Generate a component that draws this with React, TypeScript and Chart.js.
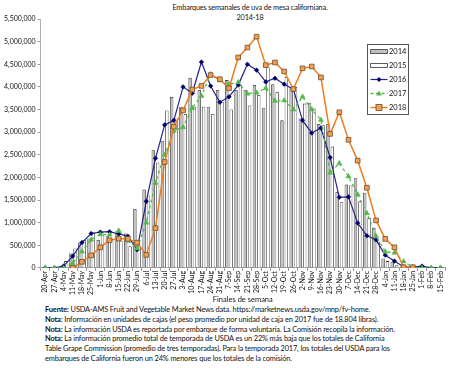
import React, { useEffect, useRef } from 'react';
import { Chart, registerables } from 'chart.js';
Chart.register(...registerables);

const weeks = ['20-Apr','27-Apr','4-May','11-May','18-May','25-May','1-Jun','8-Jun','15-Jun','22-Jun','29-Jun','6-Jul','13-Jul','20-Jul','27-Jul','3-Aug','10-Aug','17-Aug','24-Aug','31-Aug','7-Sep','14-Sep','21-Sep','28-Sep','5-Oct','12-Oct','19-Oct','26-Oct','2-Nov','9-Nov','16-Nov','23-Nov','30-Nov','7-Dec','14-Dec','21-Dec','28-Dec','4-Jan','11-Jan','18-Jan','25-Jan','1-Feb','8-Feb','15-Feb'];

const s2014 = [0,0,40000,320000,560000,650000,620000,700000,770000,760000,1300000,1730000,2600000,2810000,3780000,3560000,4200000,3930000,3560000,3930000,4150000,3930000,3930000,4040000,3540000,4060000,3260000,4000000,3300000,3650000,3180000,3180000,1680000,1840000,1980000,1660000,880000,208000,134000,20000,0,0,0,0];
const s2015 = [0,0,150000,430000,620000,780000,760000,640000,600000,480000,450000,1600000,2330000,3480000,3300000,3400000,3560000,3560000,3400000,3670000,3500000,4040000,3590000,3820000,4450000,3890000,4220000,4000000,3630000,3520000,3150000,2680000,1450000,1820000,1470000,1100000,580000,150000,60000,0,0,0,0,0];
const s2016 = [0,0,40000,260000,560000,760000,790000,800000,750000,700000,400000,1470000,2420000,3160000,3260000,4000000,3860000,4550000,4020000,3660000,3780000,4040000,4500000,4370000,4110000,4190000,4060000,3950000,3260000,2980000,3090000,2440000,1560000,1570000,990000,710000,620000,280000,150000,20000,20000,40000,0,0];
const s2017 = [0,0,0,100000,360000,620000,740000,730000,820000,600000,430000,1000000,1880000,2500000,3030000,3110000,3530000,3800000,4280000,4140000,4060000,4100000,3850000,3870000,3970000,3690000,3700000,3500000,3780000,3500000,3270000,2100000,2310000,2020000,1620000,1210000,700000,357000,335000,140000,15000,0,0,0];
const s2018 = [null,null,null,0,134000,275000,454000,610000,647000,640000,558000,287000,878000,2340000,3120000,3480000,3940000,4020000,4260000,4170000,3970000,4650000,4870000,5110000,4480000,4540000,4340000,3950000,4410000,4450000,4210000,2960000,3440000,2830000,2370000,1770000,1050000,640000,454000,15000,15000,null,null,null];

const yMax = 5500000;
const yStep = 500000;

const titleLines = ['Embarques semanales de uva de mesa californiana.', '2014-18'];
const xTitle = 'Finales de semana';
const notes: [string, string][] = [
  ['Fuente:', ' USDA-AMS Fruit and Vegetable Market News data. https://marketnews.usda.gov/mnp/fv-home.'],
  ['Nota:', ' Información en unidades de cajas (el peso promedio por unidad de caja en 2017 fue de 18.804 libras).'],
  ['Nota:', ' La información USDA es reportada por embarque de forma voluntaria. La Comisión recopila la información.'],
  ['Nota:', ' La información promedio total de temporada de USDA es un 22% más baja que los totales de California'],
  ['', 'Table Grape Commission (promedio de tres temporadas). Para la temporada 2017, los totales del USDA para los'],
  ['', 'embarques de California fueron un 24% menores que los totales de la comisión.'],
];

const FONT = 'Lato, "Open Sans", sans-serif';

const C2014 = '#c0c0c0';
const C2015 = '#ffffff';
const CBAR_BORDER = '#333333';
const C2016 = '#23238a';
const C2016P = '#00006a';
const C2017 = '#55b84a';
const C2018 = '#ee7d22';
const C2018P = '#f5a04c';
const C2018B = '#6e4c2e';

const boxLegend = {
  id: 'boxLegend',
  afterDraw(chart: any) {
    const ctx = chart.ctx;
    const a = chart.chartArea;
    const x0 = Math.round(a.right - 78) + 0.5;
    const y0 = Math.round(a.top + 25) + 0.5;
    const w = 41, h = 70;
    ctx.save();
    ctx.fillStyle = '#fff';
    ctx.fillRect(x0, y0, w, h);
    ctx.strokeStyle = '#555';
    ctx.lineWidth = 1;
    ctx.strokeRect(x0, y0, w, h);
    const labels = ['2014', '2015', '2016', '2017', '2018'];
    labels.forEach((lab, k) => {
      const cy = y0 + 7 + k * 14;
      const ix0 = x0 + 3, ix1 = x0 + 20, icx = (ix0 + ix1) / 2;
      if (k < 2) {
        ctx.fillStyle = k === 0 ? C2014 : C2015;
        ctx.strokeStyle = CBAR_BORDER;
        ctx.lineWidth = 0.8;
        ctx.beginPath();
        ctx.rect(ix0, cy - 2, ix1 - ix0, 4);
        ctx.fill();
        ctx.stroke();
      } else {
        const col = k === 2 ? C2016 : k === 3 ? C2017 : C2018;
        ctx.strokeStyle = col;
        ctx.lineWidth = k === 2 ? 1.2 : 1.4;
        ctx.setLineDash(k === 3 ? [3, 2.5] : []);
        ctx.beginPath();
        ctx.moveTo(ix0, cy);
        ctx.lineTo(ix1, cy);
        ctx.stroke();
        ctx.setLineDash([]);
        if (k === 2) {
          ctx.fillStyle = C2016P;
          ctx.beginPath();
          ctx.moveTo(icx, cy - 2.4); ctx.lineTo(icx + 2.4, cy); ctx.lineTo(icx, cy + 2.4); ctx.lineTo(icx - 2.4, cy); ctx.closePath();
          ctx.fill();
        } else if (k === 3) {
          ctx.fillStyle = C2017;
          ctx.beginPath();
          ctx.moveTo(icx, cy - 3); ctx.lineTo(icx + 2.8, cy + 2); ctx.lineTo(icx - 2.8, cy + 2); ctx.closePath();
          ctx.fill();
        } else {
          ctx.fillStyle = C2018P;
          ctx.strokeStyle = C2018B;
          ctx.lineWidth = 0.8;
          ctx.fillRect(icx - 3, cy - 3, 6, 6);
          ctx.strokeRect(icx - 3, cy - 3, 6, 6);
        }
      }
      ctx.fillStyle = '#111';
      ctx.font = '7.5px ' + FONT;
      ctx.textBaseline = 'middle';
      ctx.textAlign = 'left';
      ctx.fillText(lab, ix1 + 1.5, cy + 0.5);
    });
    ctx.restore();
  },
};

export default function App() {
  const ref = useRef<HTMLCanvasElement>(null);
  useEffect(() => {
    document.body.style.margin = '0';
    const chart = new Chart(ref.current as HTMLCanvasElement, {
      type: 'bar',
      data: {
        labels: weeks,
        datasets: [
          { type: 'bar', label: '2014', data: s2014, backgroundColor: C2014, borderColor: CBAR_BORDER, borderWidth: 0.8, order: 10, barPercentage: 0.78, categoryPercentage: 0.95 } as any,
          { type: 'bar', label: '2015', data: s2015, backgroundColor: C2015, borderColor: CBAR_BORDER, borderWidth: 0.8, order: 10, barPercentage: 0.78, categoryPercentage: 0.95 } as any,
          { type: 'line', label: '2016', data: s2016, borderColor: C2016, borderWidth: 1.2, pointStyle: 'rectRot', pointRadius: 2.3, pointBackgroundColor: C2016P, pointBorderColor: C2016P, pointBorderWidth: 0.5, order: 3, tension: 0 } as any,
          { type: 'line', label: '2017', data: s2017, borderColor: C2017, borderWidth: 1.3, borderDash: [3, 3], pointStyle: 'triangle', pointRadius: 3, pointBackgroundColor: C2017, pointBorderColor: C2017, pointBorderWidth: 0.5, order: 2, tension: 0 } as any,
          { type: 'line', label: '2018', data: s2018, borderColor: C2018, borderWidth: 1.5, pointStyle: 'rect', pointRadius: 3.3, pointBackgroundColor: C2018P, pointBorderColor: C2018B, pointBorderWidth: 0.8, order: 1, tension: 0 } as any,
        ],
      },
      options: {
        responsive: false,
        animation: false,
        layout: { padding: { left: 2, right: 5, top: 19, bottom: 0 } },
        plugins: { legend: { display: false }, tooltip: { enabled: false }, title: { display: false } },
        scales: {
          x: {
            offset: true,
            grid: { display: true, drawOnChartArea: false, drawTicks: true, tickLength: 3, color: '#9a9a9a', offset: true },
            border: { color: '#9a9a9a' },
            ticks: { autoSkip: false, maxRotation: 90, minRotation: 90, font: { family: FONT, size: 7 }, color: '#111', padding: 0 },
            title: { display: true, text: xTitle, font: { family: FONT, size: 7.5 }, color: '#111', padding: { top: 0, bottom: 0 } },
          },
          y: {
            min: 0,
            max: yMax,
            ticks: { stepSize: yStep, callback: (v: any) => Number(v).toLocaleString('en-US'), font: { family: FONT, size: 7 }, color: '#111', padding: 2 },
            grid: { drawOnChartArea: false, tickLength: 3, color: '#9a9a9a' },
            border: { color: '#b0b0b0' },
          },
        },
      } as any,
      plugins: [boxLegend],
    });
    return () => chart.destroy();
  }, []);

  return (
    <div style={{ position: 'relative', width: 450, height: 368, background: '#fff', fontFamily: FONT, color: '#111' }}>
      <div style={{ position: 'absolute', left: 0, top: 3, width: 500, textAlign: 'center', fontSize: 7.3, letterSpacing: '-0.15px', lineHeight: '10px' }}>
        {titleLines.map((t, i) => <div key={i}>{t}</div>)}
      </div>
      <canvas ref={ref} width={450} height={304} style={{ position: 'absolute', left: 0, top: 0 }} />
      <div style={{ position: 'absolute', left: 45, top: 305, fontSize: 7.4, letterSpacing: '-0.13px', lineHeight: '9.8px', whiteSpace: 'nowrap' }}>
        {notes.map(([b, t], i) => (
          <div key={i}>{b ? <b>{b}</b> : null}{t}</div>
        ))}
      </div>
    </div>
  );
}
